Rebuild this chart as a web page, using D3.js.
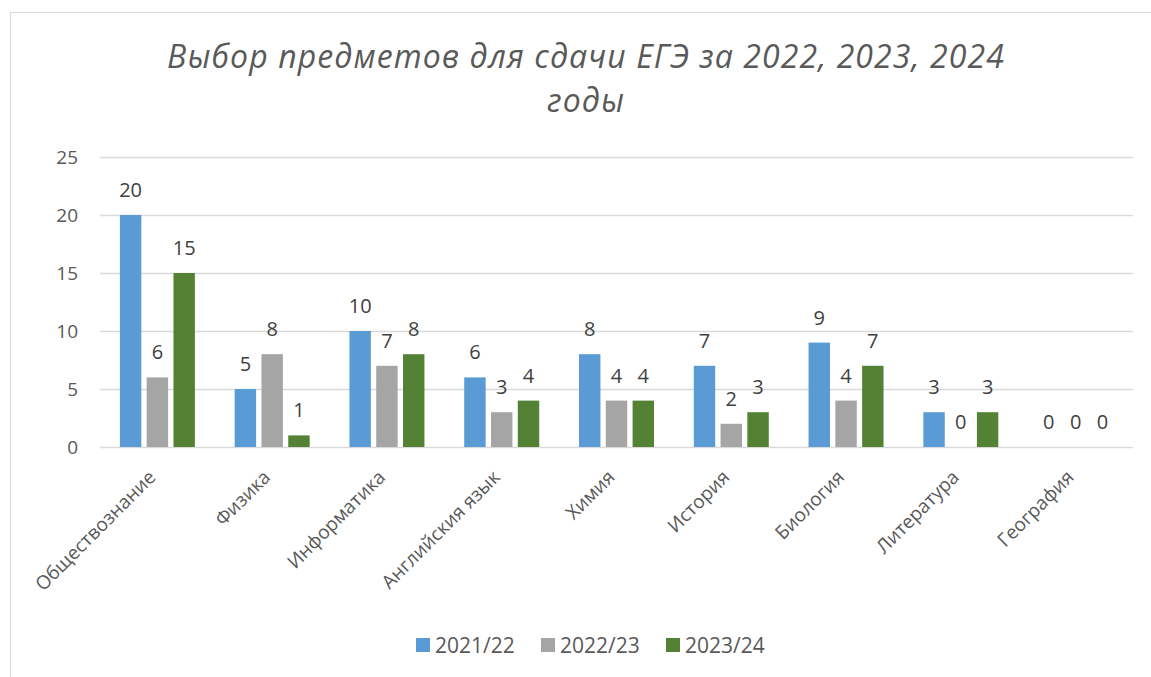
<!DOCTYPE html>
<html>
<head>
<meta charset="utf-8">
<script src="https://cdn.jsdelivr.net/npm/d3@7"></script>
<style>
  body { margin: 0; background: #fff; }
  text { font-family: "Open Sans", sans-serif; }
</style>
</head>
<body>
<div id="plot"></div>
<script>
let subjects = ['Обществознание', 'Физика', 'Информатика', 'Английския язык', 'Химия', 'История', 'Биология', 'Литература', 'География'];
let seriesNames = ['2021/22', '2022/23', '2023/24'];
let v2122 = [20, 5, 10, 6, 8, 7, 9, 3, 0];
let v2223 = [6, 8, 7, 3, 4, 2, 4, 0, 0];
let v2324 = [15, 1, 8, 4, 4, 3, 7, 3, 0];
let yTicks = [0, 5, 10, 15, 20, 25];
let colors = ['#5B9BD5', '#A5A5A5', '#548235'];
let titleLines = ['Выбор предметов для сдачи ЕГЭ за 2022, 2023, 2024', 'годы'];

let svgWidth = 1151;
let svgHeight = 677;
let margin = { top: 157, right: 18, bottom: 230, left: 100 };
let width = 1133 - margin.left;
let height = 447 - margin.top;

let allSeries = [v2122, v2223, v2324];
let rows = [];
subjects.forEach(function(s, i){
    allSeries.forEach(function(vals, j){
        rows.push({ subject: s, series: seriesNames[j], value: vals[i], idx: j });
    });
});

let svg = d3.select('#plot')
    .append('svg')
    .attr('width', svgWidth)
    .attr('height', svgHeight);

// chart frame (right and bottom edges fall outside the picture)
svg.append('rect')
    .attr('x', 10.5).attr('y', 12.5)
    .attr('width', 1160).attr('height', 700)
    .attr('fill', 'none')
    .attr('stroke', '#d9d9d9');

// title
svg.append('text')
    .attr('x', 586).attr('y', 68)
    .attr('text-anchor', 'middle')
    .style('font-size', '32px')
    .style('font-style', 'italic')
    .style('letter-spacing', '1.1px')
    .attr('fill', '#595959')
    .selectAll('tspan').data(titleLines).enter()
    .append('tspan')
        .attr('x', 586)
        .attr('dy', (d, i) => i == 0 ? 0 : 44)
        .text(d => d);

let chart = svg.append('g')
    .attr('transform', `translate(${margin.left},${margin.top})`);

let x = d3.scaleBand()
    .domain(subjects)
    .range([0, width]);

let x1 = d3.scaleBand()
    .domain(seriesNames)
    .range([x.bandwidth() / 2 - 37.5, x.bandwidth() / 2 + 37.5])
    .paddingInner(0.2);

let y = d3.scaleLinear()
    .domain([0, 25])
    .range([height, 0]);

// gridlines
let yAxis = d3.axisLeft(y).tickValues(yTicks).tickSize(-width).tickPadding(22);
let yg = chart.append('g').call(yAxis);
yg.select('.domain').remove();
yg.selectAll('line').attr('stroke', '#d9d9d9').attr('stroke-width', 1.5);
yg.selectAll('text')
    .style('font-size', '19px')
    .attr('fill', '#595959');

// bars
chart.selectAll('rect.bar').data(rows).enter()
    .append('rect')
    .attr('class', 'bar')
    .attr('x', d => x(d.subject) + x1(d.series))
    .attr('y', d => y(d.value))
    .attr('width', x1.bandwidth())
    .attr('height', d => height - y(d.value))
    .attr('fill', d => colors[d.idx]);

// data labels
chart.selectAll('text.lbl').data(rows).enter()
    .append('text')
    .attr('class', 'lbl')
    .attr('x', d => x(d.subject) + x1(d.series) + x1.bandwidth() / 2)
    .attr('y', d => y(d.value) - 18)
    .attr('text-anchor', 'middle')
    .style('font-size', '20px')
    .attr('fill', '#404040')
    .text(d => d.value);

// category labels
chart.selectAll('text.cat').data(subjects).enter()
    .append('text')
    .attr('class', 'cat')
    .attr('transform', d => `translate(${x(d) + x.bandwidth() / 2 - 10},${height + 22}) rotate(-45)`)
    .attr('text-anchor', 'end')
    .attr('dy', '0.7em')
    .style('font-size', '19px')
    .attr('fill', '#595959')
    .text(d => d);

// legend
let legend = svg.append('g').attr('transform', 'translate(416,645)');
let offsets = [0, 125, 250];
seriesNames.forEach(function(s, i){
    let g = legend.append('g').attr('transform', `translate(${offsets[i]},0)`);
    g.append('rect').attr('x', 0).attr('y', -7).attr('width', 14).attr('height', 14).attr('fill', colors[i]);
    g.append('text').attr('x', 19).attr('y', 7.5)
        .style('font-size', '21px')
        .attr('fill', '#595959')
        .text(s);
});
</script>
</body>
</html>
